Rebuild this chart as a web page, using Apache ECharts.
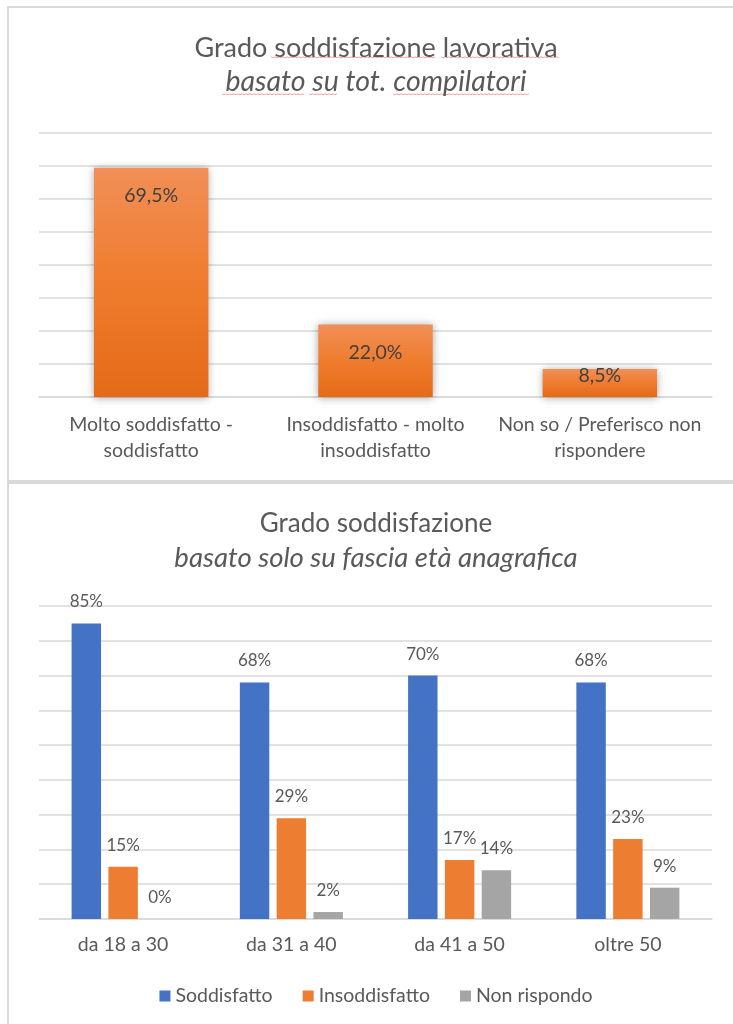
<!DOCTYPE html>
<html>
<head>
<meta charset="utf-8">
<script src="https://cdn.jsdelivr.net/npm/echarts@6/dist/echarts.min.js"></script>
<style>
  html, body { margin: 0; padding: 0; background: #fff; overflow: hidden; width: 733px; height: 1024px; }
  .box { position: absolute; border: 2px solid #d9d9d9; box-sizing: border-box; }
  .chart { position: absolute; }
</style>
</head>
<body>
<div class="box" style="left:7px; top:6px; width:760px; height:476px;"></div>
<div class="box" style="left:7px; top:482px; width:760px; height:560px;"></div>
<div id="c1" class="chart" style="left:0; top:0; width:752px; height:482px;"></div>
<div id="c2" class="chart" style="left:0; top:483px; width:752px; height:541px;"></div>
<script>
// ---- Chart 1 data ----
const title1 = 'Grado soddisfazione lavorativa';
const subtitle1 = 'basato su tot. compilatori';
const categories1 = ['Molto soddisfatto -\nsoddisfatto', 'Insoddisfatto - molto\ninsoddisfatto', 'Non so / Preferisco non\nrispondere'];
const values1 = [69.5, 22.0, 8.5];

// ---- Chart 2 data ----
const title2 = 'Grado soddisfazione';
const subtitle2 = 'basato solo su fascia età anagrafica';
const categories2 = ['da 18 a 30', 'da 31 a 40', 'da 41 a 50', 'oltre 50'];
const seriesNames2 = ['Soddisfatto', 'Insoddisfatto', 'Non rispondo'];
const soddisfatto = [85, 68, 70, 68];
const insoddisfatto = [15, 29, 17, 23];
const nonRispondo = [0, 2, 14, 9];

const FONT = 'Lato, "Open Sans", "Noto Sans", sans-serif';
const TXT = '#595959';
const GRID = '#d9d9d9';

// ---------- Chart 1 ----------
const ch1 = echarts.init(document.getElementById('c1'), null, { renderer: 'canvas' });
const grad = new echarts.graphic.LinearGradient(0, 0, 0, 1, [
  { offset: 0, color: '#F18F57' },
  { offset: 0.5, color: '#EF7C2E' },
  { offset: 1, color: '#E46A17' }
]);
// spell-check style underlines under title words (decoration)
const wavy = (x1, x2, y) => ({
  type: 'polyline', silent: true,
  shape: { points: (() => { const p = []; for (let x = x1, k = 0; x <= x2; x += 2, k++) p.push([x, y + (k % 2 ? 0.8 : -0.2)]); return p; })() },
  style: { stroke: '#f4a4a4', lineWidth: 1, fill: null }
});
ch1.setOption({
  animation: false,
  title: {
    left: 'center', top: 27,
    text: title1,
    subtext: subtitle1,
    itemGap: 2,
    textStyle: { fontFamily: FONT, fontWeight: 400, fontSize: 27, color: TXT, lineHeight: 32 },
    subtextStyle: { fontFamily: FONT, fontWeight: 400, fontStyle: 'italic', fontSize: 28.5, color: TXT, lineHeight: 32 }
  },
  graphic: [
    wavy(271, 435, 57), wavy(441, 559, 57),
    wavy(222, 304, 94), wavy(309, 337, 94), wavy(393, 529, 94)
  ],
  grid: { left: 39, right: 40, top: 133, bottom: 85 },
  xAxis: {
    type: 'category',
    data: categories1,
    axisLine: { lineStyle: { color: GRID, width: 1.5 } },
    axisTick: { show: false },
    axisLabel: { fontFamily: FONT, fontSize: 19.5, color: TXT, lineHeight: 26, margin: 15, interval: 0 }
  },
  yAxis: {
    type: 'value', min: 0, max: 80, interval: 10,
    axisLabel: { show: false },
    axisLine: { show: false },
    axisTick: { show: false },
    splitLine: { lineStyle: { color: GRID, width: 1.5 } }
  },
  series: [{
    type: 'bar',
    barWidth: '51%',
    data: values1.map(v => ({
      value: v,
      label: { distance: v < 15 ? -3 : 18 }
    })),
    itemStyle: {
      color: grad,
      shadowBlur: 8,
      shadowColor: 'rgba(0,0,0,0.35)',
      shadowOffsetY: 1
    },
    label: {
      show: true,
      position: 'insideTop',
      fontFamily: FONT,
      fontSize: 19.5,
      color: '#404040',
      formatter: p => p.value.toFixed(1).replace('.', ',') + '%'
    }
  }]
});

// ---------- Chart 2 ----------
const ch2 = echarts.init(document.getElementById('c2'), null, { renderer: 'canvas' });
const colors2 = ['#4472C4', '#ED7D31', '#A5A5A5'];
const seriesData2 = [soddisfatto, insoddisfatto, nonRispondo];
ch2.setOption({
  animation: false,
  color: colors2,
  title: {
    left: 'center', top: 19.5,
    text: title2,
    subtext: subtitle2,
    itemGap: 3,
    textStyle: { fontFamily: FONT, fontWeight: 400, fontSize: 26, color: TXT, lineHeight: 32 },
    subtextStyle: { fontFamily: FONT, fontWeight: 400, fontStyle: 'italic', fontSize: 27.5, color: TXT, lineHeight: 32 }
  },
  legend: {
    bottom: 13,
    left: 'center',
    icon: 'rect',
    itemWidth: 11,
    itemHeight: 11,
    itemGap: 30,
    textStyle: { fontFamily: FONT, fontSize: 19.5, color: TXT },
    data: seriesNames2
  },
  grid: { left: 39, right: 40, top: 123, bottom: 105 },
  xAxis: {
    type: 'category',
    data: categories2,
    axisLine: { lineStyle: { color: GRID, width: 1.5 } },
    axisTick: { show: false },
    axisLabel: { fontFamily: FONT, fontSize: 19.5, color: TXT, margin: 16 }
  },
  yAxis: {
    type: 'value', min: 0, max: 90, interval: 10,
    axisLabel: { show: false },
    axisLine: { show: false },
    axisTick: { show: false },
    splitLine: { lineStyle: { color: GRID, width: 1.5 } }
  },
  series: seriesNames2.map((name, i) => ({
    name,
    type: 'bar',
    barWidth: '17.5%',
    barGap: '25%',
    data: seriesData2[i],
    label: {
      show: true,
      position: 'top',
      distance: 13,
      fontFamily: FONT,
      fontSize: 17,
      color: TXT,
      formatter: '{c}%'
    }
  }))
});
</script>
</body>
</html>
